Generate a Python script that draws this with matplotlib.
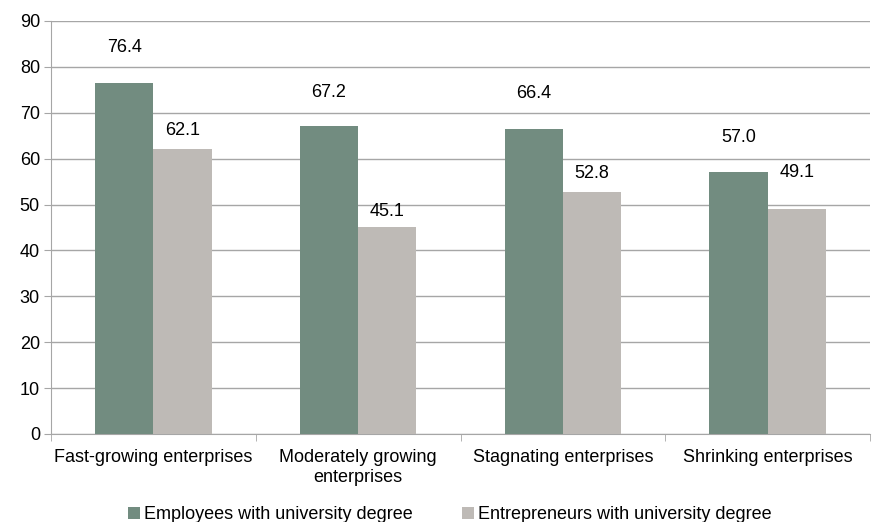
import matplotlib.pyplot as plt
import numpy as np

plt.rcParams['font.family'] = ['Liberation Sans', 'DejaVu Sans']

categories = ["Fast-growing enterprises", "Moderately growing\nenterprises",
              "Stagnating enterprises", "Shrinking enterprises"]
employees = [76.4, 67.2, 66.4, 57.0]
entrepreneurs = [62.1, 45.1, 52.8, 49.1]
series_names = ["Employees with university degree", "Entrepreneurs with university degree"]

green = "#728c80"
grey = "#bebab6"
axis_grey = "#a6a6a6"
fs = 13

fig = plt.figure(figsize=(8.77, 5.22), dpi=100)
ax = fig.add_axes([51 / 877, 1 - 434 / 522, (870 - 51) / 877, (434 - 21) / 522])

x = np.arange(len(categories))
w = 0.285
b1 = ax.bar(x - w / 2, employees, w, color=green, label=series_names[0], zorder=3)
b2 = ax.bar(x + w / 2, entrepreneurs, w, color=grey, label=series_names[1], zorder=3)

# value labels sit above each bar, offsets in points
emp_offsets = [26, 24, 26, 25]
ent_offsets = [13, 11, 13, 26]
for rect, v, off in zip(b1, employees, emp_offsets):
    ax.annotate(f"{v:.1f}", (rect.get_x() + rect.get_width() / 2, v),
                xytext=(0, off), textcoords="offset points",
                ha="center", va="center", fontsize=fs)
for rect, v, off in zip(b2, entrepreneurs, ent_offsets):
    ax.annotate(f"{v:.1f}", (rect.get_x() + rect.get_width() / 2, v),
                xytext=(0, off), textcoords="offset points",
                ha="center", va="center", fontsize=fs)

ax.set_xlim(-0.5, len(categories) - 0.5)
ax.set_ylim(0, 90)
ax.set_yticks(np.arange(0, 91, 10))
ax.yaxis.grid(True, color=axis_grey, linewidth=1, zorder=0)

ax.set_xticks(x)
ax.set_xticklabels(categories, fontsize=fs, linespacing=1.2)
ax.set_xticks(np.arange(-0.5, len(categories), 1), minor=True)
ax.tick_params(axis="x", which="major", length=0, pad=11)
ax.tick_params(axis="x", which="minor", length=5, color=axis_grey)
ax.tick_params(axis="y", length=5, color=axis_grey, labelsize=fs, pad=3)

for side in ["top", "right"]:
    ax.spines[side].set_visible(False)
for side in ["left", "bottom"]:
    ax.spines[side].set_color(axis_grey)

ax.legend(loc="upper center", bbox_to_anchor=(0.487, -0.148), bbox_transform=ax.transAxes,
          ncol=2, frameon=False, fontsize=fs, handlelength=0.65, handleheight=0.65,
          handletextpad=0.25, columnspacing=2.7, borderpad=0.1)

fig.savefig("out.png", dpi=100)
